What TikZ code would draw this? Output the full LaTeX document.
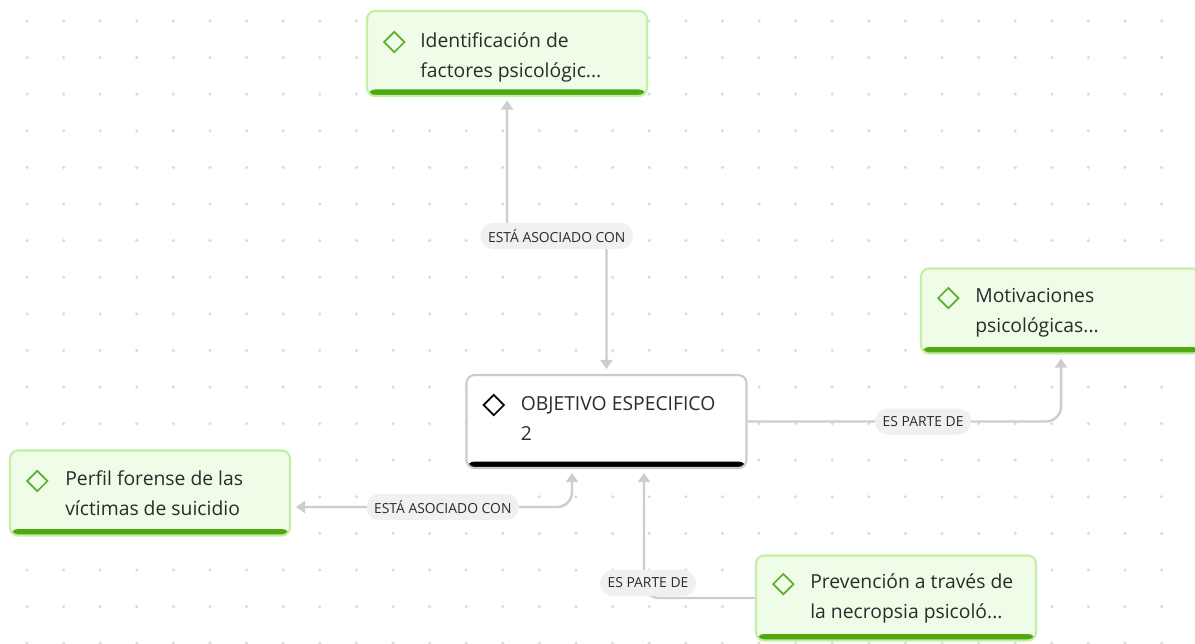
\documentclass[tikz,border=0pt]{standalone}
\usepackage{fontspec}
\setmainfont{Open Sans}
\usetikzlibrary{positioning,shapes.geometric,arrows.meta}

\definecolor{leaf}{HTML}{EFFCE7}
\definecolor{leafline}{HTML}{C3EFA6}
\definecolor{leafbar}{HTML}{4EA80E}
\definecolor{leafmark}{HTML}{5AB02E}
\definecolor{goalline}{HTML}{CBCBCB}
\definecolor{ink}{HTML}{2B2B2B}
\definecolor{wirecol}{HTML}{CDCDCD}
\definecolor{tagfill}{HTML}{F0F0F0}
\definecolor{dotcol}{HTML}{DCDCDC}

\tikzset{
	card/.style={line width=1.2pt, rounded corners=0.16cm,
		minimum width=5.6cm, minimum height=1.7cm,
		path picture={\fill[#1] ([yshift=0.13cm]path picture bounding box.south west)
			rectangle (path picture bounding box.south east);}},
	topic/.style={card=leafbar, draw=leafline, fill=leaf},
	goal/.style={card=black, draw=goalline, fill=white, minimum height=1.86cm},
	txt/.style={font=\fontsize{11}{17}\selectfont, text=ink, align=left, inner sep=0pt},
	mark/.style={diamond, draw=#1, line width=1pt, inner sep=0pt, minimum size=0.42cm},
	relation/.style={fill=tagfill, text=ink, rounded corners=0.25cm, inner xsep=0.15cm,
		minimum height=0.52cm, font=\fontsize{7.9}{9}\selectfont},
	wire/.style={draw=wirecol, line width=1.4pt, rounded corners=0.3cm},
	tip/.tip={Triangle[width=0.24cm,length=0.18cm]}
}

\begin{document}
\begin{tikzpicture}[x=0.02cm, y=-0.02cm]
	% background and dot grid
	\fill[white] (0,0) rectangle (1195,643);
	\useasboundingbox (0,0) rectangle (1195,643);
	\foreach \i in {0,...,32}
		\foreach \j in {0,...,17}
			\fill[dotcol] ({27+36.6*\i},{21+36.6*\j}) circle (0.035cm);

	% boxes
	\node[goal] (goal) at (606.5,421.5) {};
	\node[topic] (ident) at (507,53.5) {};
	\node[topic] (motiv) at (1061,311) {};
	\node[topic] (perfil) at (150,493) {};
	\node[topic] (prev) at (896,598) {};

	\node[mark=black, right=0.34cm of goal.west, yshift=0.33cm] (goal-m) {};
	\node[mark=leafmark, right=0.34cm of ident.west, yshift=0.23cm] (ident-m) {};
	\node[mark=leafmark, right=0.34cm of motiv.west, yshift=0.26cm] (motiv-m) {};
	\node[mark=leafmark, right=0.34cm of perfil.west, yshift=0.24cm] (perfil-m) {};
	\node[mark=leafmark, right=0.34cm of prev.west, yshift=0.28cm] (prev-m) {};

	\node[txt, right=1.1cm of goal.west, yshift=0.06cm] (goal-t) {OBJETIVO ESPECIFICO\\2};
	\node[txt, right=1.08cm of ident.west, yshift=-0.07cm] (ident-t) {Identificación de\\factores psicológic...};
	\node[txt, right=1.1cm of motiv.west, yshift=-0.04cm] (motiv-t) {Motivaciones\\psicológicas...};
	\node[txt, right=1.12cm of perfil.west] (perfil-t) {Perfil forense de las\\víctimas de suicidio};
	\node[txt, right=1.1cm of prev.west] (prev-t) {Prevención a través de\\la necropsia psicoló...};

	% connectors
	\draw[wire, tip-tip, shorten <=0.1cm, shorten >=0.07cm]
		(goal.north) -- ++(0,-138) -| node[relation, pos=0.25] {ESTÁ ASOCIADO CON} (ident.south);
	\draw[wire, -tip, shorten >=0.08cm]
		(goal.east) -| node[relation, pos=0.28] {ES PARTE DE} (motiv.south);
	\draw[wire, tip-tip, shorten <=0.08cm, shorten >=0.1cm]
		([xshift=-0.69cm]goal.south) |- node[relation, pos=0.73] {ESTÁ ASOCIADO CON} ([yshift=-0.28cm]perfil.east);
	\draw[wire, -tip, shorten >=0.08cm]
		(prev.west) -| node[relation, pos=0.5, xshift=0.08cm, yshift=0.3cm] {ES PARTE DE} ([xshift=0.75cm]goal.south);
\end{tikzpicture}
\end{document}
